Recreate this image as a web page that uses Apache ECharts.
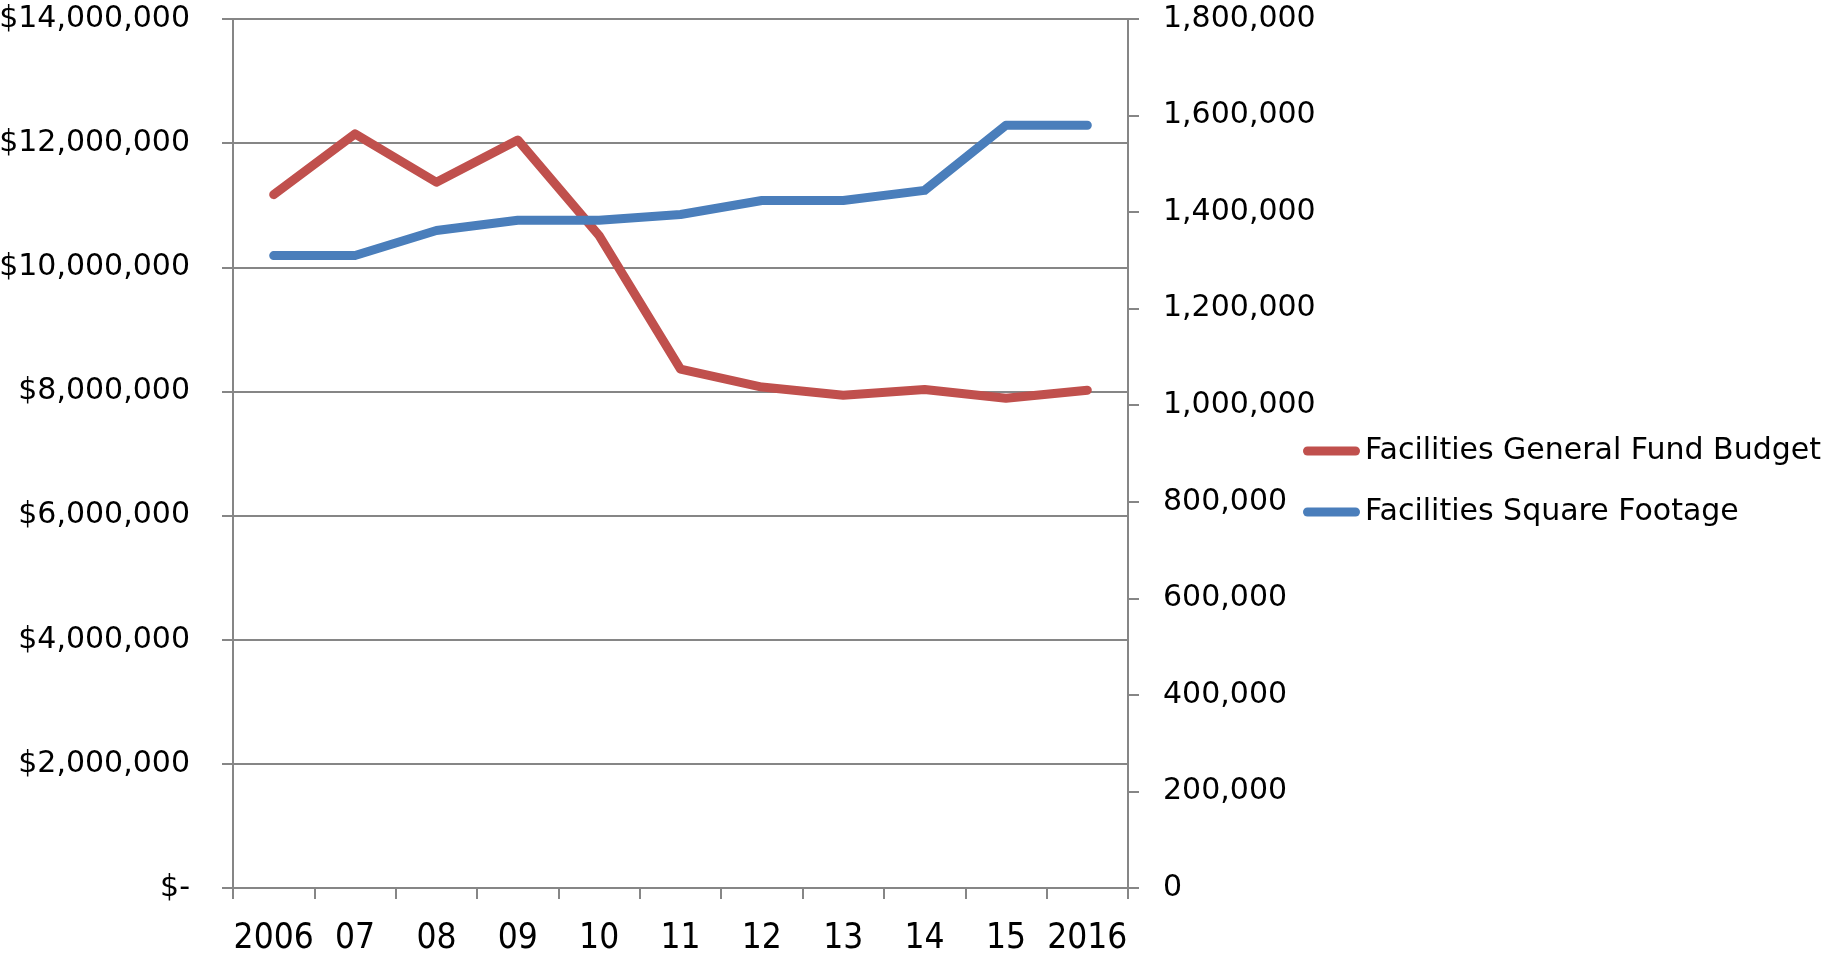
<!DOCTYPE html>
<html>
<head>
<meta charset="utf-8">
<script src="https://cdn.jsdelivr.net/npm/echarts@6/dist/echarts.min.js"></script>
<style>
html,body{margin:0;padding:0;background:#fff;}
#chart{width:1829px;height:956px;}
</style>
</head>
<body>
<div id="chart"></div>
<script>
const categories = ['2006','07','08','09','10','11','12','13','14','15','2016'];
const budgetName = 'Facilities General Fund Budget';
const footageName = 'Facilities Square Footage';
const budget = [11170000, 12150000, 11370000, 12050000, 10510000, 8360000, 8070000, 7940000, 8030000, 7890000, 8020000];
const footage = [1310000, 1310000, 1362000, 1383000, 1383000, 1395000, 1424000, 1424000, 1445000, 1580000, 1580000];

const axisGray = '#868686';
const numFont = 'DejaVu Sans';
const chart = echarts.init(document.getElementById('chart'));
chart.setOption({
  animation: false,
  backgroundColor: '#ffffff',
  grid: { left: 233, right: 701, top: 19, bottom: 68, containLabel: false, outerBoundsMode: 'none' },
  legend: {
    orient: 'vertical',
    left: 1298,
    top: 431,
    itemWidth: 57,
    itemHeight: 30,
    itemGap: 31,
    icon: 'path://M4.5,10.5 L52.5,10.5 A4.5,4.5 0 0 1 52.5,19.5 L4.5,19.5 A4.5,4.5 0 0 1 4.5,10.5 Z',
    textStyle: { fontFamily: numFont, fontSize: 30, color: '#000', lineHeight: 30 },
    data: [budgetName, footageName]
  },
  xAxis: {
    type: 'category',
    data: categories,
    boundaryGap: true,
    axisLine: { show: true, lineStyle: { color: axisGray, width: 2 } },
    axisTick: { show: true, interval: 0, length: 11, lineStyle: { color: axisGray, width: 2 } },
    axisLabel: { interval: 0, margin: 33, fontFamily: '"Liberation Sans Narrow", "DejaVu Sans Condensed", sans-serif', fontSize: 35, color: '#000' },
    splitLine: { show: false }
  },
  yAxis: [
    {
      type: 'value', position: 'left', min: 0, max: 14000000, interval: 2000000,
      axisLine: { show: true, lineStyle: { color: axisGray, width: 2 } },
      axisTick: { show: true, length: 11, lineStyle: { color: axisGray, width: 2 } },
      axisLabel: {
        margin: 43, fontFamily: numFont, fontSize: 30, color: '#000',
        formatter: v => v === 0 ? '$-' : '$' + v.toLocaleString('en-US')
      },
      splitLine: { show: true, lineStyle: { color: axisGray, width: 2 } }
    },
    {
      type: 'value', position: 'right', min: 0, max: 1800000, interval: 200000,
      axisLine: { show: true, lineStyle: { color: axisGray, width: 2 } },
      axisTick: { show: true, length: 11, lineStyle: { color: axisGray, width: 2 } },
      axisLabel: {
        margin: 35, fontFamily: numFont, fontSize: 30, color: '#000',
        formatter: v => v.toLocaleString('en-US')
      },
      splitLine: { show: false }
    }
  ],
  series: [
    {
      name: budgetName, type: 'line', yAxisIndex: 0, data: budget,
      symbol: 'none', z: 2,
      itemStyle: { color: '#C0504D' },
      lineStyle: { color: '#C0504D', width: 9, cap: 'round', join: 'round' }
    },
    {
      name: footageName, type: 'line', yAxisIndex: 1, data: footage,
      symbol: 'none', z: 3,
      itemStyle: { color: '#4A7EBB' },
      lineStyle: { color: '#4A7EBB', width: 9, cap: 'round', join: 'round' }
    }
  ]
});
</script>
</body>
</html>
